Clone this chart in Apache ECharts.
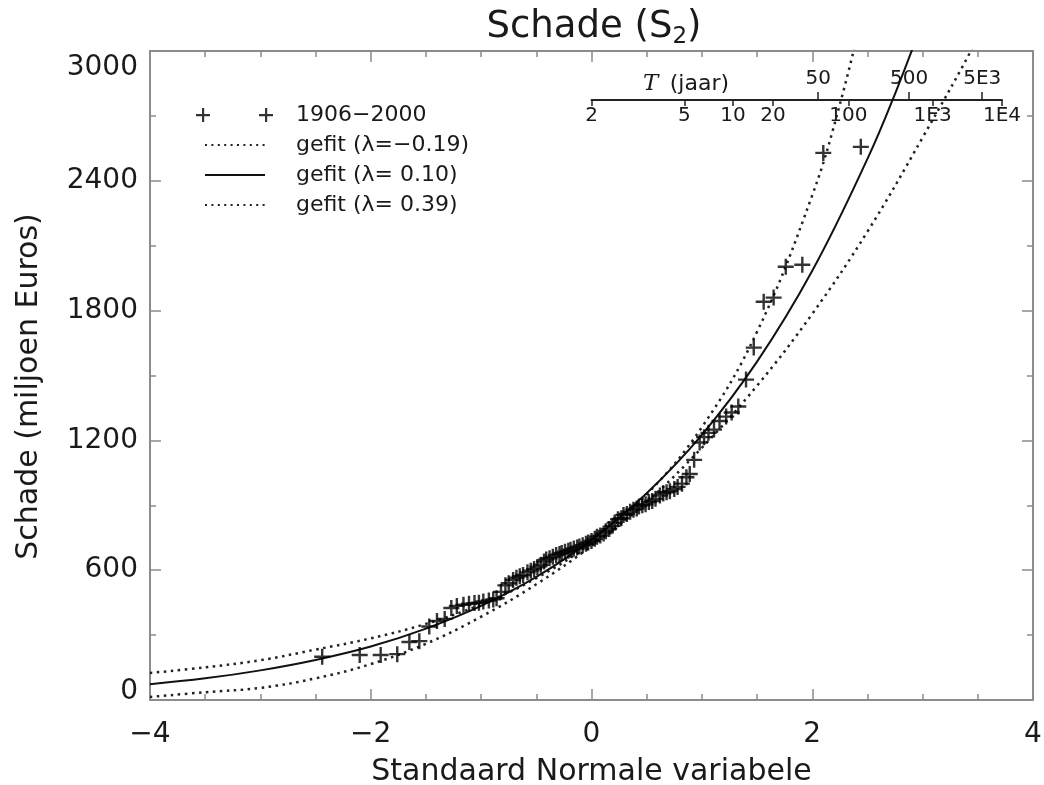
<!DOCTYPE html>
<html>
<head>
<meta charset="utf-8">
<script src="https://cdn.jsdelivr.net/npm/echarts@6/dist/echarts.min.js"></script>
<style>html,body{margin:0;padding:0;background:#fff}#c{width:1044px;height:785px}</style>
</head>
<body>
<div id="c"></div>
<script>
// ---------- data ----------
const pointZ = [-2.44,-2.10,-1.91,-1.76,-1.65,-1.56,-1.47,-1.40,-1.33,-1.27,-1.22,-1.16,-1.11,-1.06,-1.02,-0.98,-0.93,-0.89,-0.86,-0.82,-0.78,-0.75,-0.71,-0.68,-0.65,-0.62,-0.58,-0.55,-0.52,-0.49,-0.46,-0.43,-0.41,-0.38,-0.35,-0.32,-0.29,-0.27,-0.24,-0.21,-0.19,-0.16,-0.13,-0.11,-0.08,-0.05,-0.03,0,0.03,0.05,0.08,0.11,0.13,0.16,0.19,0.21,0.24,0.27,0.29,0.32,0.35,0.38,0.41,0.43,0.46,0.49,0.52,0.55,0.58,0.62,0.65,0.68,0.71,0.75,0.78,0.82,0.86,0.89,0.93,0.98,1.02,1.06,1.11,1.16,1.22,1.27,1.33,1.40,1.47,1.56,1.65,1.76,1.91,2.10,2.44];
const pointDamage = [200,208,208,212,268,272,340,365,375,425,435,440,445,448,450,455,460,465,470,500,530,540,555,565,572,578,590,598,605,615,625,640,650,655,662,670,675,680,685,690,695,700,705,710,715,722,728,735,745,755,760,770,780,790,805,820,835,840,855,860,870,880,885,895,900,905,915,920,930,945,955,960,965,975,985,1000,1030,1045,1110,1190,1215,1235,1250,1290,1310,1329,1357,1481,1629,1841,1860,2003,2012,2529,2557];

const fitNegZ = [-4,-3.5,-3,-2.5,-2,-1.5,-1,-0.5,0,0.5,1,1.5,2,2.25,2.5];
const fitNegV = [125,151,184,233,285,352,442,563,727,950,1261,1702,2333,2753,3267];
const fitMidZ = [-4,-3.5,-3,-2.5,-2,-1.5,-1,-0.5,0,0.5,1,1.5,2,2.5,2.75,3];
const fitMidV = [73,100,137,185,247,330,435,569,740,956,1226,1564,1984,2501,2802,3137];
const fitPosZ = [-4,-3.5,-3,-2.5,-2,-1.5,-1,-0.5,0,0.5,1,1.5,2,2.5,3,3.5,4];
const fitPosV = [14,36,56,100,166,260,385,535,712,916,1166,1453,1785,2165,2600,3060,3560];

const seriesNames = ['1906\u22122000','gefit (\u03bb=\u22120.19)','gefit (\u03bb= 0.10)','gefit (\u03bb= 0.39)'];

const xTicks = [-4,-2,0,2,4];
const yTicks = [0,600,1200,1800,2400,3000];

// return period axis (T, jaar)
const tBelow = [2,5,10,20,100,1000,10000];
const tBelowLabels = ['2','5','10','20','100','1E3','1E4'];
const tAbove = [50,500,5000];
const tAboveLabels = ['50','500','5E3'];

// ---------- helpers ----------
function probit(p){ // inverse standard normal CDF (Acklam)
  const a=[-3.969683028665376e+01,2.209460984245205e+02,-2.759285104469687e+02,1.383577518672690e+02,-3.066479806614716e+01,2.506628277459239e+00];
  const b=[-5.447609879822406e+01,1.615858368580409e+02,-1.556989798598866e+02,6.680131188771972e+01,-1.328068155288572e+01];
  const c=[-7.784894002430293e-03,-3.223964580411365e-01,-2.400758277161838e+00,-2.549732539343734e+00,4.374664141464968e+00,2.938163982698783e+00];
  const d=[7.784695709041462e-03,3.224671290700398e-01,2.445134137142996e+00,3.754408661907416e+00];
  const pl=0.02425, ph=1-pl; let q,r;
  if(p<pl){q=Math.sqrt(-2*Math.log(p));return (((((c[0]*q+c[1])*q+c[2])*q+c[3])*q+c[4])*q+c[5])/((((d[0]*q+d[1])*q+d[2])*q+d[3])*q+1);}
  if(p<=ph){q=p-0.5;r=q*q;return (((((a[0]*r+a[1])*r+a[2])*r+a[3])*r+a[4])*r+a[5])*q/(((((b[0]*r+b[1])*r+b[2])*r+b[3])*r+b[4])*r+1);}
  q=Math.sqrt(-2*Math.log(1-p));return -(((((c[0]*q+c[1])*q+c[2])*q+c[3])*q+c[4])*q+c[5])/((((d[0]*q+d[1])*q+d[2])*q+d[3])*q+1);
}
const tz = T => probit(1-1/T);
const zBelow = tBelow.map(tz);
const zAbove = tAbove.map(tz);
const zMax = tz(10000);
function lookup(v, zs, labels){ for(let i=0;i<zs.length;i++){ if(Math.abs(zs[i]-v)<1e-6) return labels[i]; } return ''; }

const pair = (xs, ys) => xs.map((x,i)=>[x, ys[i]]);
const minus = v => (v<0 ? '\u2212'+Math.abs(v) : String(v));

// ---------- layout ----------
const W=1044, H=785;
const GL=150, GR=11, GT=51, GB=85;
const pxPerUnit = (W-GL-GR)/8;
const g2Left = GL + 4*pxPerUnit;
const g2Right = W - (g2Left + zMax*pxPerUnit);

const FONT='DejaVu Sans';
const AX='#8c8c8c';
const TXT='#1a1a1a';
const plusPath='path://M0,6.8h16v2.4h-16z M6.8,0h2.4v16h-2.4z';

// legend icons (77 x 14 box)
const plusIcon='path://M0,6h14v2.2h-14z M6,0h2.2v14h-2.2z M63,6h14v2.2h-14z M69,0h2.2v14h-2.2z';
const solidIcon='path://M0,0 M77,14 M9,6h60v2h-60z';
let dots='path://M0,0 M77,14';
for(let x=9;x<=67;x+=6.4){ dots+=' M'+x.toFixed(1)+',6h2v2h-2z'; }
const dotIcon=dots;

const chart = echarts.init(document.getElementById('c'), null, {renderer:'canvas'});
chart.setOption({
  animation:false,
  backgroundColor:'#fff',
  textStyle:{fontFamily:FONT},
  title:[
    {text:'{a|Schade (S}{s|2}{a|)}', left:589, top:1, textAlign:'center',
     textStyle:{fontWeight:'normal',rich:{a:{fontSize:37,fontWeight:'normal',color:TXT,fontFamily:FONT},s:{fontSize:23,fontWeight:'normal',color:TXT,fontFamily:FONT,padding:[20,0,0,0]}}}},
    {text:'{t|T}  {a|(jaar)}', left:638, top:68,
     textStyle:{fontWeight:'normal',rich:{t:{fontSize:23,fontStyle:'italic',fontWeight:'normal',fontFamily:'DejaVu Serif',color:TXT},a:{fontSize:22,fontWeight:'normal',color:TXT,fontFamily:FONT}}}}
  ],
  legend:{
    orient:'vertical', left:191, top:99, itemWidth:77, itemHeight:14, itemGap:8,
    textStyle:{fontSize:22, color:TXT, fontFamily:FONT, lineHeight:22, padding:[0,0,0,18]},
    data:[
      {name:seriesNames[0], icon:plusIcon},
      {name:seriesNames[1], icon:dotIcon},{name:seriesNames[2], icon:solidIcon},{name:seriesNames[3], icon:dotIcon}
    ]
  },
  grid:[
    {left:GL, right:GR, top:GT, bottom:GB, outerBoundsMode:'none', containLabel:false},
    {left:g2Left, right:g2Right, top:99, height:1, outerBoundsMode:'none', containLabel:false}
  ],
  xAxis:[
    {gridIndex:0, type:'value', min:-4, max:4, interval:2, position:'bottom',
     axisLine:{onZero:false,lineStyle:{color:AX,width:2}},
     axisTick:{inside:true,length:11,lineStyle:{color:AX,width:1.5}},
     minorTick:{show:true,splitNumber:4,length:6,lineStyle:{color:AX,width:1.5}},
     splitLine:{show:false},
     axisLabel:{fontSize:28,color:TXT,margin:21,formatter:minus},
     name:'Standaard Normale variabele', nameLocation:'middle', nameGap:57,
     nameTextStyle:{fontSize:30,color:TXT,fontFamily:FONT}},
    {gridIndex:0, type:'value', min:-4, max:4, interval:2, position:'top',
     axisLine:{onZero:false,lineStyle:{color:AX,width:2}},
     axisTick:{inside:true,length:11,lineStyle:{color:AX,width:1.5}},
     minorTick:{show:true,splitNumber:4,length:6,lineStyle:{color:AX,width:1.5}},
     splitLine:{show:false}, axisLabel:{show:false}},
    {gridIndex:1, type:'value', min:0, max:zMax, position:'bottom',
     axisLine:{onZero:false,lineStyle:{color:'#222',width:2}},
     axisTick:{show:true,inside:false,length:6,customValues:zBelow,lineStyle:{color:'#222',width:1.5}},
     axisLabel:{show:true,customValues:zBelow,margin:6,fontSize:20,color:TXT,formatter:v=>lookup(v,zBelow,tBelowLabels)},
     splitLine:{show:false}},
    {gridIndex:1, type:'value', min:0, max:zMax, position:'bottom',
     axisLine:{show:false,onZero:false},
     axisTick:{show:true,inside:true,length:8,customValues:zAbove,lineStyle:{color:'#222',width:1.5}},
     axisLabel:{show:true,inside:true,customValues:zAbove,margin:11,fontSize:20,color:TXT,formatter:v=>lookup(v,zAbove,tAboveLabels)},
     splitLine:{show:false}}
  ],
  yAxis:[
    {gridIndex:0, type:'value', min:0, max:3000, interval:600, position:'left',
     axisLine:{show:true,onZero:false,lineStyle:{color:AX,width:2}},
     axisTick:{show:true,inside:true,length:11,lineStyle:{color:AX,width:1.5}},
     minorTick:{show:true,splitNumber:2,length:6,lineStyle:{color:AX,width:1.5}},
     splitLine:{show:false},
     axisLabel:{fontSize:28,color:TXT,margin:12,
       formatter:v=> v===3000 ? '{t|'+v+'}' : (v===0 ? '{b|'+v+'}' : '{n|'+v+'}'),
       rich:{t:{fontSize:28,color:TXT,padding:[34,0,0,0]},b:{fontSize:28,color:TXT,padding:[0,0,16,0]},n:{fontSize:28,color:TXT}}},
     name:'Schade (miljoen Euros)', nameLocation:'middle', nameGap:106,
     nameTextStyle:{fontSize:30,color:TXT,fontFamily:FONT,padding:[0,22,0,0]}},
    {gridIndex:0, type:'value', min:0, max:3000, interval:600, position:'right',
     axisLine:{show:true,onZero:false,lineStyle:{color:AX,width:2}},
     axisTick:{show:true,inside:true,length:11,lineStyle:{color:AX,width:1.5}},
     minorTick:{show:true,splitNumber:2,length:6,lineStyle:{color:AX,width:1.5}},
     splitLine:{show:false}, axisLabel:{show:false}},
    {gridIndex:1, type:'value', min:0, max:1, show:false}
  ],
  series:[
    {name:seriesNames[0], type:'scatter', xAxisIndex:0, yAxisIndex:0, data:pair(pointZ,pointDamage),
     symbol:plusPath, symbolSize:16, itemStyle:{color:'#000'}, z:5},
    {name:seriesNames[1], type:'line', xAxisIndex:0, yAxisIndex:0, data:pair(fitNegZ,fitNegV),
     smooth:0.4, symbol:'none', clip:true, lineStyle:{color:'#222',width:2.5,type:[2.5,4.5]}, itemStyle:{color:'#222'}},
    {name:seriesNames[2], type:'line', xAxisIndex:0, yAxisIndex:0, data:pair(fitMidZ,fitMidV),
     smooth:0.4, symbol:'none', clip:true, lineStyle:{color:'#111',width:2}, itemStyle:{color:'#111'}},
    {name:seriesNames[3], type:'line', xAxisIndex:0, yAxisIndex:0, data:pair(fitPosZ,fitPosV),
     smooth:0.4, symbol:'none', clip:true, lineStyle:{color:'#222',width:2.5,type:[2.5,4.5]}, itemStyle:{color:'#222'}}
  ]
});
</script>
</body>
</html>
